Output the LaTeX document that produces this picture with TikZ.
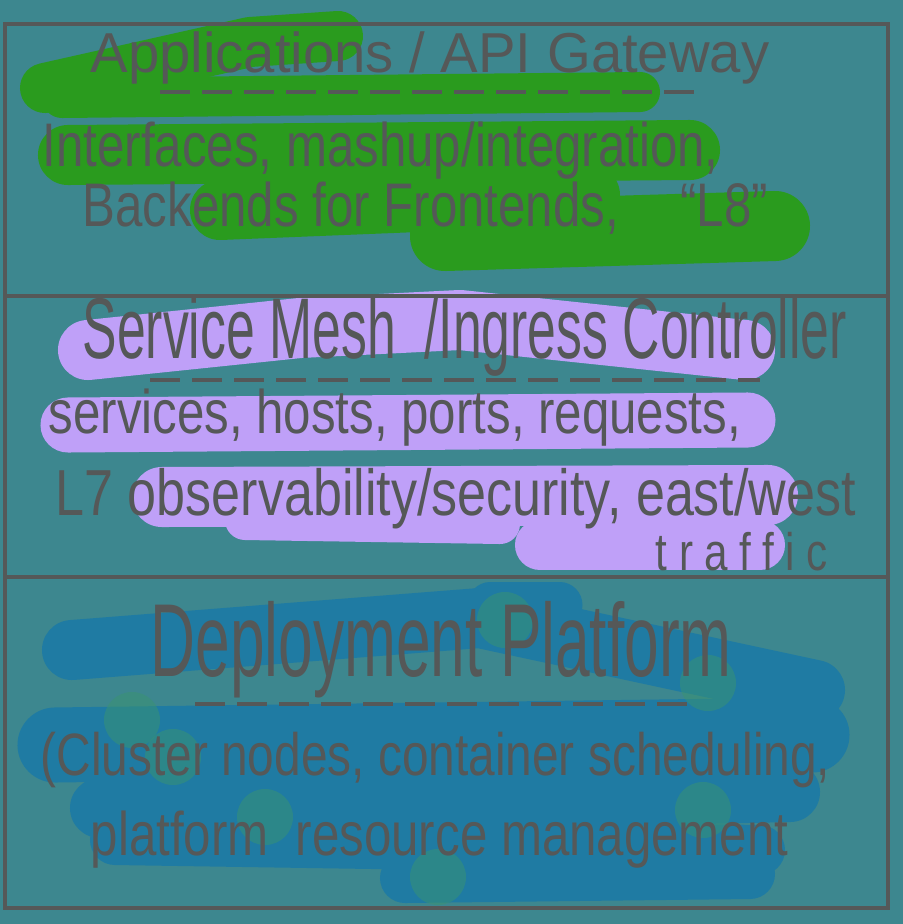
\documentclass[tikz,border=0pt]{standalone}
\usepackage{fontspec}
\newfontfamily\handfont{Liberation Sans}[FakeStretch=0.8]
\newfontfamily\narrowhand{Liberation Sans}[FakeStretch=0.6]
\newfontfamily\widehand{Liberation Sans}
\usetikzlibrary{positioning}
\definecolor{bgteal}{HTML}{3D878F}
\definecolor{ink}{HTML}{555858}
\definecolor{brushgreen}{HTML}{2A9B1E}
\definecolor{brushlilac}{HTML}{BFA0F8}
\definecolor{brushblue}{HTML}{1F7BA3}
\definecolor{spotgreen}{HTML}{3A9470}
\def\lw{1.2pt}
\tikzstyle{hand}=[text=ink,inner sep=0pt,anchor=base west,font=\handfont\fontsize{17.5}{18}\selectfont]
\tikzstyle{smallheadline}=[hand,font=\widehand\fontsize{16}{17}\selectfont]
\tikzstyle{headline}=[hand,font=\narrowhand\fontsize{24.5}{25}\selectfont]
\tikzstyle{bigheadline}=[hand,font=\narrowhand\fontsize{29.5}{30}\selectfont]
\tikzstyle{brush}=[line cap=round,line join=round]
\tikzstyle{divider}=[ink,line width=\lw,dash pattern=on 0.3cm off 0.12cm]
\newcommand{\newLine}[4]{\node[#3](#1) at (#4) {#2};}

\begin{document}
\begin{tikzpicture}[x=0.01cm,y=-0.01cm]
      \fill[bgteal] (0,0) rectangle (903,924);
      \useasboundingbox (0,0) rectangle (903,924);
      % brush strokes
      \draw[brush,brushgreen,line width=0.5cm] (45,88) -- (250,42) -- (338,36);
      \draw[brush,brushgreen,line width=0.4cm] (62,98) -- (640,92);
      \draw[brush,brushgreen,line width=0.6cm] (68,155) -- (690,150);
      \draw[brush,brushgreen,line width=0.6cm] (220,210) -- (590,195);
      \draw[brush,brushgreen,line width=0.7cm] (445,236) -- (775,226);
      \draw[brush,brushlilac,line width=0.6cm] (88,350) -- (300,328) -- (460,320) -- (745,350);
      \draw[brush,brushlilac,line width=0.55cm] (68,425) -- (748,420);
      \draw[brush,brushlilac,line width=0.6cm] (162,497) -- (768,495);
      \draw[brush,brushlilac,line width=0.4cm] (245,520) -- (500,524);
      \draw[brush,brushlilac,line width=0.5cm] (540,545) -- (760,545);
      \draw[brush,brushblue,line width=0.6cm] (72,650) -- (480,618) -- (815,690);
      \draw[brush,brushblue,line width=0.45cm] (490,605) -- (560,605);
      \draw[brush,brushblue,line width=0.75cm] (55,745) -- (812,735);
      \draw[brush,brushblue,line width=0.6cm] (100,808) -- (790,792);
      \draw[brush,brushblue,line width=0.5cm] (115,840) -- (760,850);
      \draw[brush,brushblue,line width=0.5cm] (405,878) -- (750,874);
      \foreach \p in {(505,620),(708,683),(132,720),(173,757),(265,817),(438,877),(703,810)}
        \fill[spotgreen,opacity=0.5] \p circle (28);
      % frame
      \draw[ink,line width=\lw] (5,24) rectangle (888,908);
      \draw[ink,line width=\lw] (5,296) -- (888,296);
      \draw[ink,line width=\lw] (5,577) -- (888,577);
      % top layer
      \newLine{apigw}{Applications / API Gateway}{smallheadline}{90,72}
      \draw[divider] (160,92) -- (698,92);
      \newLine{apiA}{Interfaces, mashup/integration,}{hand}{42,166}
      \newLine{apiB}{Backends for Frontends,\quad “L8”}{hand}{82,226}
      % middle layer
      \newLine{mesh}{Service Mesh\ \ /Ingress Controller}{headline}{82,358}
      \draw[divider] (150,380) -- (760,380);
      \newLine{meshA}{services, hosts, ports, requests,}{hand}{48,433}
      \newLine{meshB}{L7 observability/security, east/west}{hand,font=\handfont\fontsize{18.5}{19}\selectfont}{55,515}
      \newLine{meshC}{\addfontfeature{LetterSpace=22}traffic}{hand,font=\handfont\fontsize{15}{15}\selectfont}{655,570}
      % bottom layer
      \newLine{deploy}{Deployment Platform}{bigheadline}{150,676}
      \draw[divider] (195,704) -- (690,704);
      \newLine{deployA}{(Cluster nodes, container scheduling,}{hand,font=\handfont\fontsize{17}{17}\selectfont}{40,775}
      \newLine{deployB}{platform\ \ resource management}{hand}{90,855}
    \end{tikzpicture}
\end{document}
